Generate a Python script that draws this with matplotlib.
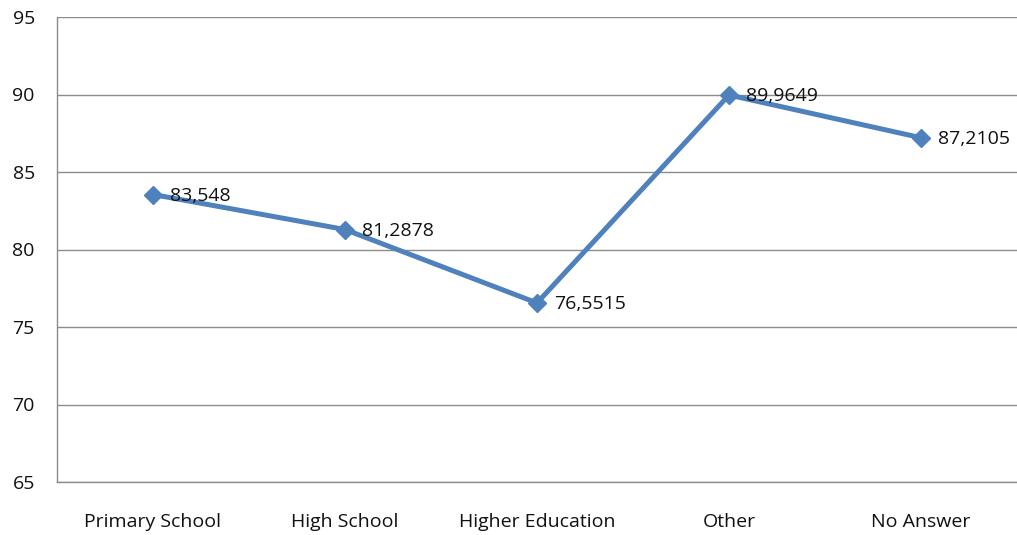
import matplotlib
matplotlib.use("Agg")
import matplotlib.pyplot as plt

categories = ["Primary School", "High School", "Higher Education", "Other", "No Answer"]
values = [83.548, 81.2878, 76.5515, 89.9649, 87.2105]
value_labels = ["83,548", "81,2878", "76,5515", "89,9649", "87,2105"]
yticks = [65, 70, 75, 80, 85, 90, 95]

plt.rcParams['font.family'] = ['Open Sans', 'DejaVu Sans']

fig = plt.figure(figsize=(10.17, 5.35), dpi=100)
ax = fig.add_axes([57/1017, 53/535, 960/1017, 465/535])

x = list(range(len(categories)))
ax.plot(x, values, color="#4F81BD", lw=3.6, marker="D", ms=9.5, mec="#4F81BD", mfc="#4F81BD", zorder=3)
for xi, v, lab in zip(x, values, value_labels):
    ax.annotate(lab, (xi, v), xytext=(12, -1), textcoords="offset points",
                va="center", ha="left", fontsize=14, color="#111111")

ax.set_xlim(-0.5, 4.5)
ax.set_ylim(65, 95)
ax.set_yticks(yticks)
ax.set_xticks(x)
ax.set_xticklabels(categories)
ax.tick_params(axis="both", length=0, labelsize=14, colors="#111111")
ax.tick_params(axis="y", pad=16)
ax.tick_params(axis="x", pad=22)
ax.grid(axis="y", color="#8C8C8C", lw=1)
ax.set_axisbelow(True)
for s in ["top", "right"]:
    ax.spines[s].set_visible(False)
for s in ["left", "bottom"]:
    ax.spines[s].set_color("#8C8C8C")
    ax.spines[s].set_linewidth(1)

fig.savefig("out.png", dpi=100)
